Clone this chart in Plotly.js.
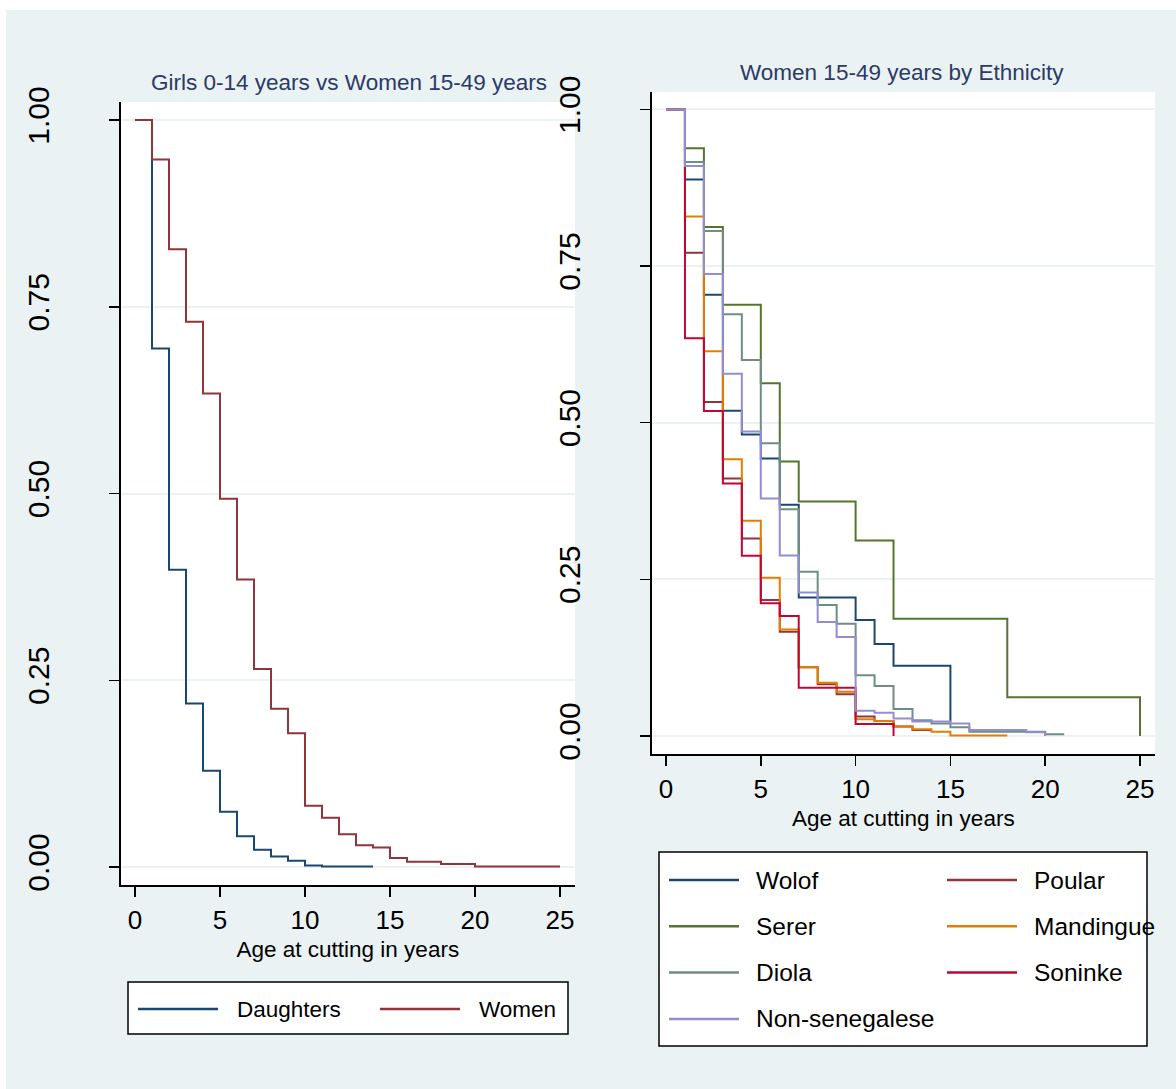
<!DOCTYPE html>
<html><head><meta charset="utf-8">
<script src="https://cdn.plot.ly/plotly-3.0.1.min.js"></script>
<style>html,body{margin:0;padding:0;background:#fff}</style>
</head><body><div id="chart" style="width:1176px;height:1089px"></div>
<script>
// ---------- data (Kaplan-Meier style survival) ----------
const leftTitle = 'Girls 0-14 years vs Women 15-49 years';
const rightTitle = 'Women 15-49 years by Ethnicity';
const xAxisTitle = 'Age at cutting in years';
const yTickVals = [0, 0.25, 0.5, 0.75, 1];
const yTickText = ['0.00', '0.25', '0.50', '0.75', '1.00'];
const xTickVals = [0, 5, 10, 15, 20, 25];

const ageDaughters = [0, 1, 2, 3, 4, 5, 6, 7, 8, 9, 10, 11, 14];
const survDaughters = [1, 0.694, 0.398, 0.219, 0.129, 0.074, 0.041, 0.023, 0.014, 0.0085, 0.002, 0.0005, 0.0005];
const ageWomen = [0, 1, 2, 3, 4, 5, 6, 7, 8, 9, 10, 11, 12, 13, 14, 15, 16, 18, 20, 25];
const survWomen = [1, 0.947, 0.827, 0.730, 0.634, 0.493, 0.385, 0.265, 0.212, 0.179, 0.082, 0.066, 0.044, 0.029, 0.026, 0.012, 0.007, 0.004, 0.0005, 0.0005];

const ageWolof = [0, 1, 2, 3, 4, 5, 6, 7, 10, 11, 12, 15];
const survWolof = [1, 0.888, 0.704, 0.519, 0.481, 0.443, 0.369, 0.221, 0.185, 0.147, 0.112, 0.022];
const agePoular = [0, 1, 2, 3, 4, 5, 6, 7, 8, 9, 10, 11, 12, 13, 14];
const survPoular = [1, 0.771, 0.533, 0.411, 0.315, 0.217, 0.1665, 0.1096, 0.0825, 0.0665, 0.031, 0.024, 0.015, 0.0096, 0.0096];
const ageSerer = [0, 1, 2, 3, 5, 6, 7, 10, 12, 18, 25];
const survSerer = [1, 0.938, 0.812, 0.688, 0.563, 0.438, 0.374, 0.312, 0.187, 0.062, 0];
const ageMandingue = [0, 1, 2, 3, 4, 5, 6, 7, 8, 9, 10, 11, 12, 13, 14, 15, 18];
const survMandingue = [1, 0.829, 0.614, 0.4415, 0.3436, 0.2526, 0.170, 0.1096, 0.085, 0.0707, 0.0266, 0.024, 0.015, 0.0106, 0.007, 0.001, 0.001];
const ageDiola = [0, 1, 2, 3, 4, 5, 6, 7, 8, 9, 10, 11, 12, 13, 14, 15, 16, 20, 21];
const survDiola = [1, 0.916, 0.806, 0.673, 0.600, 0.467, 0.362, 0.262, 0.209, 0.179, 0.097, 0.080, 0.043, 0.025, 0.020, 0.014, 0.007, 0.0027, 0.0027];
const ageSoninke = [0, 1, 2, 3, 4, 5, 6, 7, 10, 12];
const survSoninke = [1, 0.6346, 0.5186, 0.403, 0.2877, 0.2117, 0.1915, 0.077, 0.019, 0];
const ageNonSen = [0, 1, 2, 3, 4, 5, 6, 7, 8, 9, 10, 11, 12, 13, 15, 16, 19, 20];
const survNonSen = [1, 0.9095, 0.737, 0.578, 0.486, 0.379, 0.288, 0.229, 0.182, 0.158, 0.0404, 0.037, 0.028, 0.023, 0.020, 0.0096, 0.006, 0];

const leftNames = ['Daughters', 'Women'];
const rightNames = ['Wolof', 'Poular', 'Serer', 'Mandingue', 'Diola', 'Soninke', 'Non-senegalese'];

// ---------- styles ----------
const W = 1176, H = 1089;
const BG = '#eaf2f3';
const FONT = "'Liberation Sans', Arial, sans-serif";
const TITLE_COLOR = '#2b3a67';
const leftColors = ['#1a476f', '#90353b'];
const rightColors = {Wolof: '#1a476f', Poular: '#90353b', Serer: '#55752f', Mandingue: '#e37e00',
  Diola: '#6e8e84', Soninke: '#c10534', 'Non-senegalese': '#938dd2'};

const fx = px => px / W;
const fy = py => 1 - py / H;

const leftSeries = [[ageDaughters, survDaughters], [ageWomen, survWomen]];
const rightSeries = {Wolof: [ageWolof, survWolof], Poular: [agePoular, survPoular], Serer: [ageSerer, survSerer],
  Mandingue: [ageMandingue, survMandingue], Diola: [ageDiola, survDiola], Soninke: [ageSoninke, survSoninke],
  'Non-senegalese': [ageNonSen, survNonSen]};

const traces = [];
leftNames.forEach((n, i) => traces.push({
  x: leftSeries[i][0], y: leftSeries[i][1], name: n, type: 'scatter', mode: 'lines',
  line: {shape: 'hv', color: leftColors[i], width: 2}, xaxis: 'x', yaxis: 'y', showlegend: false, hoverinfo: 'skip'
}));
rightNames.forEach(n => traces.push({
  x: rightSeries[n][0], y: rightSeries[n][1], name: n, type: 'scatter', mode: 'lines',
  line: {shape: 'hv', color: rightColors[n], width: 2}, xaxis: 'x2', yaxis: 'y2', showlegend: false, hoverinfo: 'skip'
}));

function xAxis(domain, range, anchor) {
  return {domain, range, anchor, tickvals: xTickVals, ticktext: xTickVals.map(String),
    showgrid: false, zeroline: false, showline: true, linecolor: '#000', linewidth: 1.5,
    ticks: 'outside', ticklen: 10, tickwidth: 1.5, tickcolor: '#000', ticklabelstandoff: 1,
    tickfont: {family: FONT, size: 26, color: '#000'},
    title: {text: xAxisTitle, font: {family: FONT, size: 22.5, color: '#000'}, standoff: 7}, fixedrange: true};
}
function yAxis(domain, range, anchor) {
  return {domain, range, anchor, tickvals: yTickVals, ticktext: yTickText, tickangle: -90,
    showgrid: true, gridcolor: BG, gridwidth: 2, zeroline: false, showline: true, linecolor: '#000', linewidth: 1.5,
    ticks: 'outside', ticklen: 10, tickwidth: 1.5, tickcolor: '#000', ticklabelstandoff: 48,
    tickfont: {family: FONT, size: 30, color: '#000'}, fixedrange: true};
}

const shapes = [
  {type: 'rect', xref: 'paper', yref: 'paper', x0: 0, x1: 1, y0: fy(10), y1: 1, fillcolor: '#fff', line: {width: 0}, layer: 'below'},
  {type: 'rect', xref: 'paper', yref: 'paper', x0: 0, x1: fx(6), y0: 0, y1: 1, fillcolor: '#fff', line: {width: 0}, layer: 'below'}
];
const annotations = [
  {text: leftTitle, x: fx(349), y: fy(82), xref: 'paper', yref: 'paper', showarrow: false, xanchor: 'center', yanchor: 'middle',
   font: {family: FONT, size: 22.5, color: TITLE_COLOR}},
  {text: rightTitle, x: fx(902), y: fy(72), xref: 'paper', yref: 'paper', showarrow: false, xanchor: 'center', yanchor: 'middle',
   font: {family: FONT, size: 22.5, color: TITLE_COLOR}}
];

// legend boxes built from the series names
function legendBox(x0, y0, x1, y1) {
  shapes.push({type: 'rect', xref: 'paper', yref: 'paper', x0: fx(x0), x1: fx(x1), y0: fy(y1), y1: fy(y0),
    fillcolor: '#fff', line: {color: '#000', width: 1.5}});
}
function legendItem(name, color, lx0, lx1, tx, yc, size) {
  shapes.push({type: 'line', xref: 'paper', yref: 'paper', x0: fx(lx0), x1: fx(lx1), y0: fy(yc), y1: fy(yc),
    line: {color, width: 2.5}});
  annotations.push({text: name, x: fx(tx), y: fy(yc), xref: 'paper', yref: 'paper', showarrow: false,
    xanchor: 'left', yanchor: 'middle', font: {family: FONT, size, color: '#000'}});
}
legendBox(128, 982, 568, 1034);
leftNames.forEach((n, i) => {
  const off = i * 242;
  legendItem(n, leftColors[i], 138 + off, 218 + off, 235 + off, 1009, 22.5);
});
legendBox(659, 852, 1147, 1046);
rightNames.forEach((n, i) => {
  const col = i % 2, row = Math.floor(i / 2);
  const off = col * 278;
  legendItem(n, rightColors[n], 669 + off, 739 + off, 754 + off, 880 + row * 46.3, 24.5);
});

const layout = {
  width: W, height: H, margin: {l: 0, r: 0, t: 0, b: 0, pad: 0},
  paper_bgcolor: BG, plot_bgcolor: '#fff', showlegend: false,
  xaxis: xAxis([fx(120.7), fx(575)], [-0.84, 25.88], 'y'),
  yaxis: yAxis([fy(885), fy(102)], [-0.0241, 1.0241], 'x'),
  xaxis2: xAxis([fx(651.7), fx(1155)], [-0.754, 25.79], 'y2'),
  yaxis2: yAxis([fy(754), fy(92)], [-0.0287, 1.0276], 'x2'),
  shapes, annotations
};
Plotly.newPlot('chart', traces, layout, {displayModeBar: false, staticPlot: true});
</script></body></html>
